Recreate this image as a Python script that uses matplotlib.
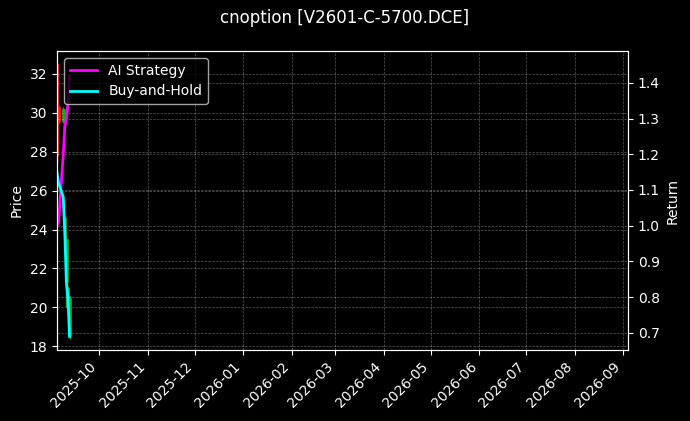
import numpy as np
import pandas as pd
import matplotlib
matplotlib.use("Agg")
import matplotlib.pyplot as plt
import matplotlib.dates as mdates

plt.style.use("dark_background")

# データ
dates = pd.to_datetime([
    "2025-09-04", "2025-09-05", "2025-09-08", "2025-09-09",
    "2025-09-10", "2025-09-11", "2025-09-12",
])
open_ = [27.8, 29.6, 30.2, 24.6, 23.5, 21.0, 20.5]
high = [32.6, 30.4, 30.3, 24.7, 23.6, 21.1, 20.6]
low = [27.4, 29.5, 29.5, 23.4, 20.0, 19.9, 18.4]
close = [32.5, 30.3, 29.6, 23.6, 21.3, 20.4, 18.6]

ai_strategy = [1.00, 1.01, 1.20, 1.28, 1.30, 1.34, 1.42]
buy_and_hold = [1.147, 1.12, 1.08, 0.98, 0.84, 0.80, 0.69]

x_start = pd.Timestamp("2025-09-04")
x_end = pd.Timestamp("2026-09-04")

fig = plt.figure(figsize=(6.9, 4.21), dpi=100)
ax = fig.add_axes([57 / 690, 71 / 421, 571 / 690, 299 / 421])
ax2 = ax.twinx()

# ローソク足 (赤=上昇, 緑=下落)
x = mdates.date2num(dates)
for xi, o, h, l, c in zip(x, open_, high, low, close):
    col = "#ff1a1a" if c >= o else "#1fa81f"
    ax.vlines(xi, l, h, color=col, linewidth=1)
    ax.bar(xi, abs(c - o), bottom=min(o, c), width=1.6, color=col, edgecolor=col, linewidth=0.5)

ax2.plot(dates, ai_strategy, color="#ff00ff", linewidth=2, label="AI Strategy")
ax2.plot(dates, buy_and_hold, color="#00ffff", linewidth=2, label="Buy-and-Hold")

ax.set_xlim(x_start, x_end)
ax.set_ylim(17.81, 33.18)
ax2.set_ylim(0.652, 1.489)
ax.set_yticks(np.arange(18, 33, 2))
ax2.set_yticks(np.arange(0.7, 1.45, 0.1))

ax.xaxis.set_major_locator(mdates.MonthLocator())
ax.xaxis.set_major_formatter(mdates.DateFormatter("%Y-%m"))
plt.setp(ax.get_xticklabels(), rotation=45, ha="right")

ax.set_ylabel("Price")
ax2.set_ylabel("Return")

ax.grid(True, linestyle="--", linewidth=0.5, alpha=0.35)
ax2.grid(True, linestyle="--", linewidth=0.5, alpha=0.35)

ax2.legend(loc="upper left", facecolor="black", edgecolor="#cccccc")

fig.text(0.5, 1 - 18 / 421, "cnoption [V2601-C-5700.DCE]", ha="center", va="center", fontsize=12)

fig.savefig("out.png", dpi=100, facecolor="black")
